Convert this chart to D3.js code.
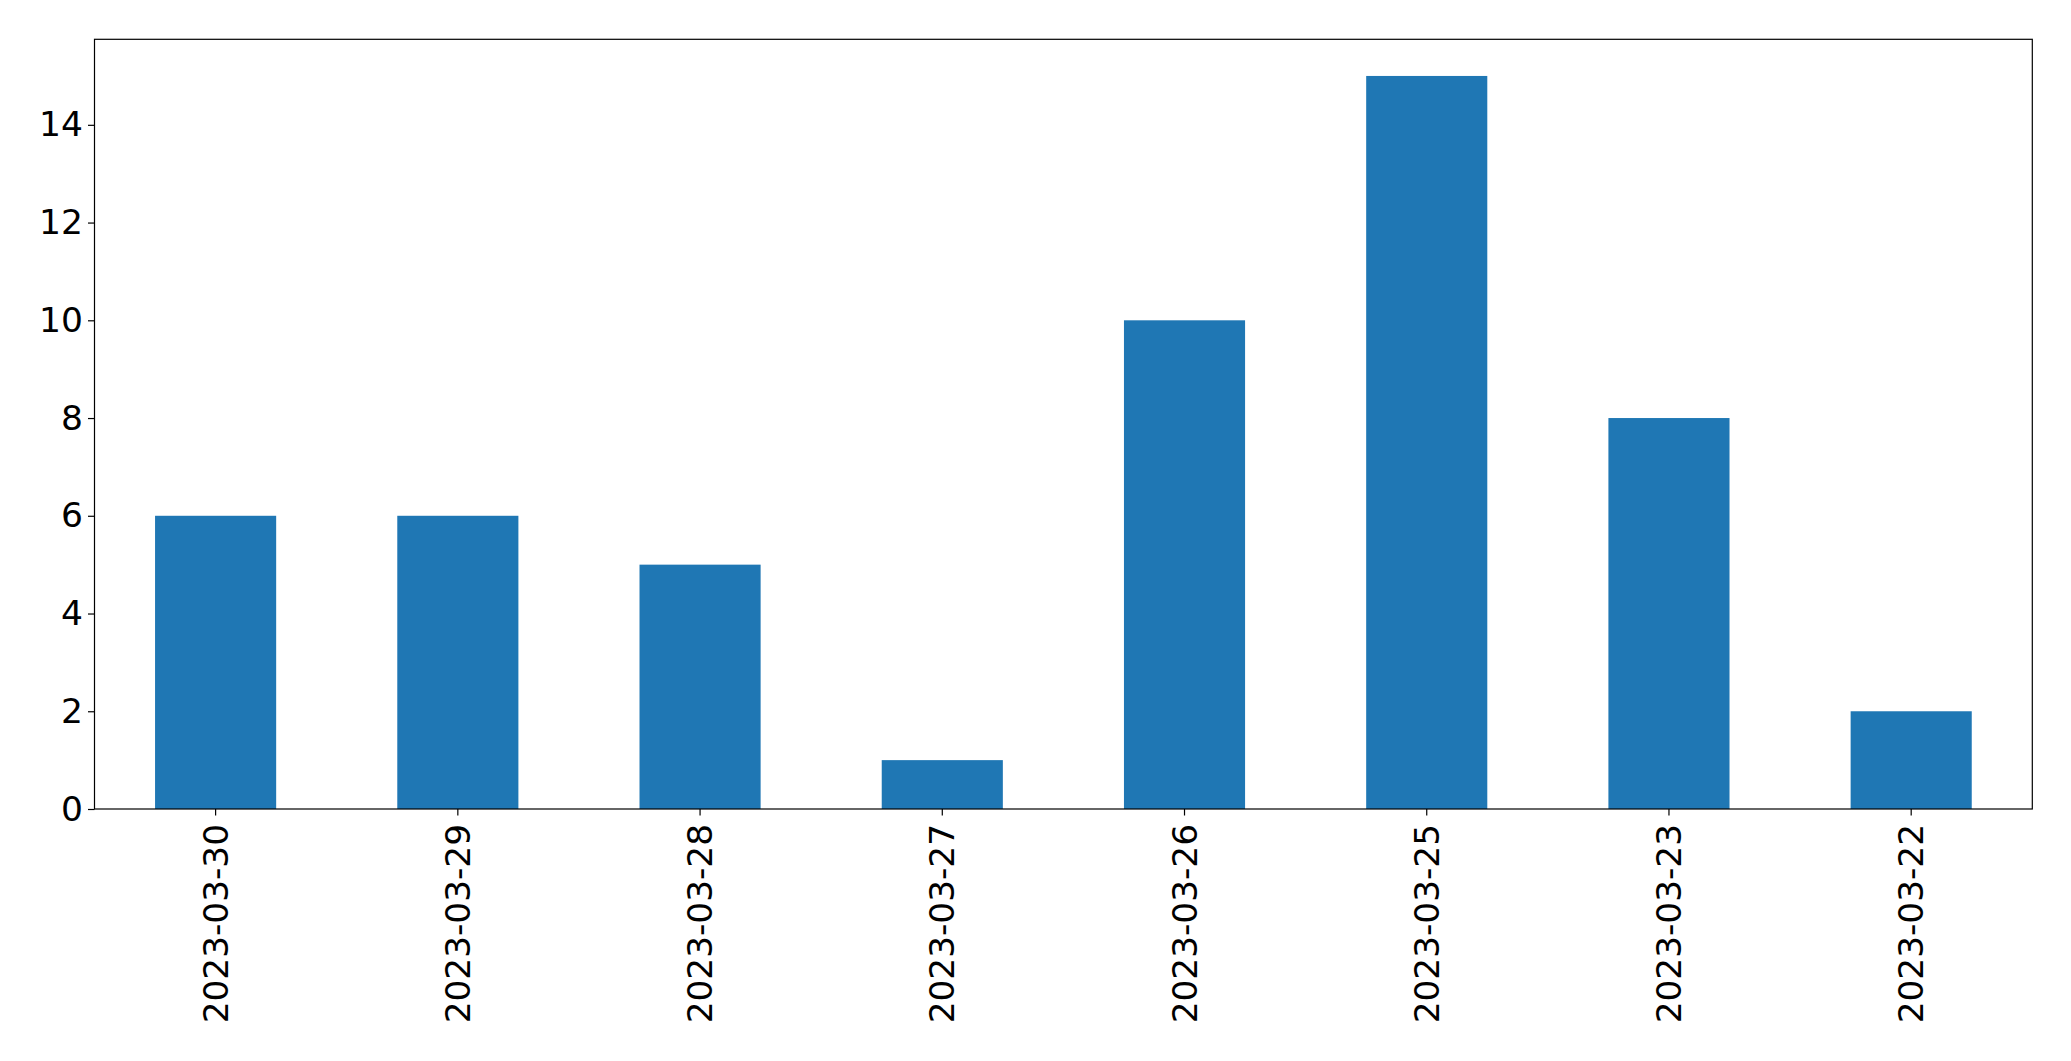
<!DOCTYPE html>
<html><head><meta charset="utf-8">
<script src="https://cdn.jsdelivr.net/npm/d3@7"></script>
<style>body{margin:0;background:#fff}svg{display:block}</style>
</head><body>
<svg id="c" width="2071" height="1061"></svg>
<script>
const categories = ["2023-03-30","2023-03-29","2023-03-28","2023-03-27","2023-03-26","2023-03-25","2023-03-23","2023-03-22"];
const values = [6, 6, 5, 1, 10, 15, 8, 2];
const yTicks = [0, 2, 4, 6, 8, 10, 12, 14];

const W = 2071, H = 1061;
const m = {left: 94.5, top: 39.3, right: 2071 - 2032.3, bottom: 1061 - 809};
const svg = d3.select("#c");
const iw = W - m.left - m.right, ih = H - m.top - m.bottom;
const g = svg.append("g").attr("transform", `translate(${m.left},${m.top})`);

const x = d3.scaleBand().domain(categories).range([0, iw]).paddingInner(0.5).paddingOuter(0.25);
const y = d3.scaleLinear().domain([0, 15.75]).range([ih, 0]);

g.selectAll("rect.bar").data(values).enter().append("rect")
  .attr("class","bar")
  .attr("x", (d,i) => x(categories[i]))
  .attr("width", x.bandwidth())
  .attr("y", d => y(d))
  .attr("height", d => y(0) - y(d))
  .attr("fill", "#1f77b4");

const font = "DejaVu Sans, sans-serif";
const yAxis = g.append("g").call(d3.axisLeft(y).tickValues(yTicks).tickFormat(d3.format("d")).tickSizeOuter(0).tickSize(6.5).tickPadding(5));
yAxis.select(".domain").remove();
yAxis.selectAll("text").attr("font-family", font).attr("font-size", 34.5).attr("fill","#000");
yAxis.selectAll("line").attr("stroke","#000").attr("stroke-width",1.2);

const xAxis = g.append("g").attr("transform", `translate(0,${ih})`)
  .call(d3.axisBottom(x).tickSizeOuter(0).tickSize(6.5).tickPadding(6));
xAxis.select(".domain").remove();
xAxis.selectAll("line").attr("stroke","#000").attr("stroke-width",1.2);
xAxis.selectAll("text")
  .attr("font-family", font).attr("font-size", 34.3).attr("fill","#000")
  .attr("text-anchor","end")
  .attr("transform","rotate(-90)")
  .attr("x", -15).attr("y", 0).attr("dy","0.35em");

g.append("rect").attr("x",0).attr("y",0).attr("width",iw).attr("height",ih)
  .attr("fill","none").attr("stroke","#000").attr("stroke-width",1.2);
</script>
</body></html>
